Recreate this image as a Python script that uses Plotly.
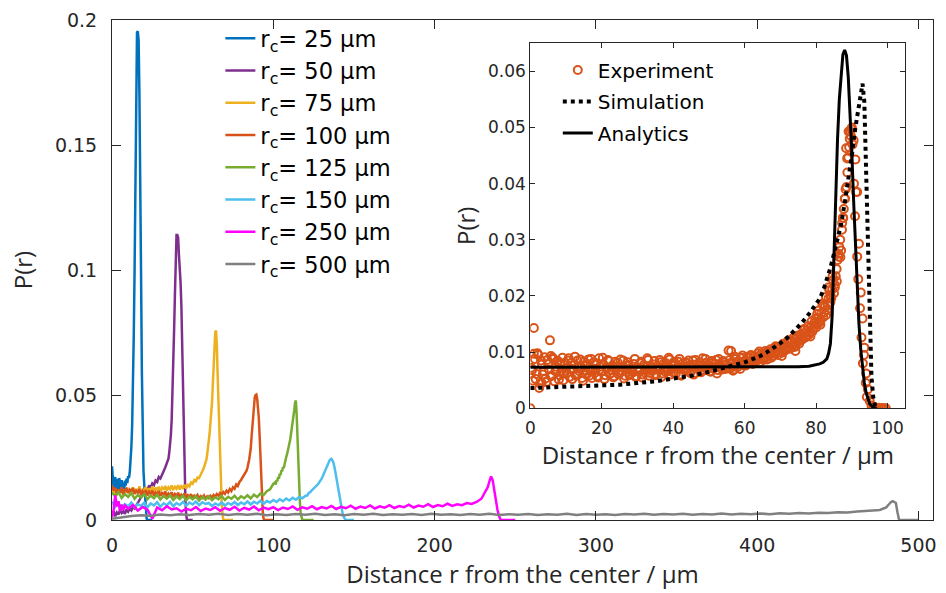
import plotly.graph_objects as go

# ---------------- main chart data ----------------
labels = ["r<sub>c</sub>= 25 μm", "r<sub>c</sub>= 50 μm", "r<sub>c</sub>= 75 μm", "r<sub>c</sub>= 100 μm",
          "r<sub>c</sub>= 125 μm", "r<sub>c</sub>= 150 μm", "r<sub>c</sub>= 250 μm", "r<sub>c</sub>= 500 μm"]
colors = ["#0072BD", "#7E2F8E", "#EDB120", "#D95319", "#77AC30", "#4DBEEE", "#FF00FF", "#808080"]

r25 = [0.5 * i for i in range(45)] + [23, 24, 25]
p25 = [0.0215, 0.0180, 0.0125, 0.0158, 0.0172, 0.0118, 0.0165, 0.0130, 0.0112, 0.0168,
       0.0142, 0.0120, 0.0160, 0.0128, 0.0150, 0.0115, 0.0158, 0.0138, 0.0165, 0.0148,
       0.0175, 0.0168, 0.0190, 0.0230, 0.0290, 0.0380, 0.0520, 0.0740, 0.1000, 0.1420,
       0.1850, 0.1950, 0.1955, 0.1920, 0.1700, 0.1420, 0.1000, 0.0600, 0.0330, 0.0200,
       0.0140, 0.0080, 0.0030, 0.0005, 0.0, 0.0, 0.0, 0.0]

r50 = list(range(0, 35)) + [35 + 0.5 * i for i in range(25)] + [48, 49, 50]
p50 = [0.0020, 0.0035, 0.0015, 0.0030, 0.0022, 0.0040, 0.0028, 0.0035, 0.0025, 0.0042,
       0.0033, 0.0045, 0.0038, 0.0052, 0.0046, 0.0060, 0.0068, 0.0080, 0.0090, 0.0105,
       0.0112, 0.0125, 0.0118, 0.0138, 0.0130, 0.0146, 0.0140, 0.0158, 0.0152, 0.0172,
       0.0166, 0.0185, 0.0195, 0.0210, 0.0225,
       0.0245, 0.0270, 0.0300, 0.0340, 0.0400, 0.0500, 0.0620, 0.0760, 0.0900, 0.1050,
       0.1140, 0.1140, 0.1130, 0.1060, 0.1010, 0.0950, 0.0860, 0.0700, 0.0500, 0.0300,
       0.0180, 0.0080, 0.0020, 0.0, 0.0,
       0.0, 0.0, 0.0]

r75 = list(range(0, 57)) + [57 + 0.5 * i for i in range(25)] + [70, 71, 72, 73, 74, 75]
p75 = [0.0118, 0.0102, 0.0125, 0.0098, 0.0120, 0.0108, 0.0130, 0.0100, 0.0122, 0.0110,
       0.0128, 0.0103, 0.0118, 0.0131, 0.0105, 0.0124, 0.0112, 0.0135, 0.0108, 0.0121,
       0.0115, 0.0132, 0.0110, 0.0126, 0.0117, 0.0134, 0.0112, 0.0129, 0.0120, 0.0133,
       0.0116, 0.0130, 0.0121, 0.0136, 0.0118, 0.0131, 0.0123, 0.0138, 0.0120, 0.0133,
       0.0125, 0.0139, 0.0122, 0.0135, 0.0128, 0.0141, 0.0126, 0.0143, 0.0135, 0.0150,
       0.0145, 0.0160, 0.0155, 0.0170, 0.0168, 0.0185, 0.0195,
       0.0210, 0.0218, 0.0230, 0.0240, 0.0262, 0.0285, 0.0315, 0.0345, 0.0385, 0.0420,
       0.0470, 0.0540, 0.0610, 0.0690, 0.0750, 0.0758, 0.0700, 0.0580, 0.0460, 0.0340,
       0.0240, 0.0140, 0.0070, 0.0025, 0.0,
       0.0, 0.0, 0.0, 0.0, 0.0, 0.0]

r100 = list(range(0, 84)) + [83.5 + 0.5 * i for i in range(24)] + [96, 97, 98, 99, 100]
p100 = [0.0137, 0.0118, 0.0128, 0.0105, 0.0122, 0.0110, 0.0130, 0.0102, 0.0119, 0.0125,
        0.0108, 0.0121, 0.0112, 0.0128, 0.0104, 0.0117, 0.0109, 0.0124, 0.0100, 0.0115,
        0.0107, 0.0120, 0.0098, 0.0113, 0.0105, 0.0118, 0.0097, 0.0110, 0.0103, 0.0116,
        0.0096, 0.0108, 0.0101, 0.0114, 0.0094, 0.0106, 0.0099, 0.0111, 0.0092, 0.0104,
        0.0097, 0.0109, 0.0090, 0.0101, 0.0095, 0.0106, 0.0088, 0.0099, 0.0093, 0.0103,
        0.0087, 0.0097, 0.0091, 0.0100, 0.0086, 0.0095, 0.0089, 0.0098, 0.0085, 0.0094,
        0.0088, 0.0097, 0.0090, 0.0100, 0.0093, 0.0104, 0.0097, 0.0108, 0.0101, 0.0112,
        0.0105, 0.0117, 0.0110, 0.0124, 0.0116, 0.0131, 0.0125, 0.0142, 0.0136, 0.0152,
        0.0160, 0.0172, 0.0182, 0.0190,
        0.0198, 0.0210, 0.0222, 0.0240, 0.0262, 0.0285, 0.0330, 0.0375, 0.0420, 0.0460,
        0.0490, 0.0500, 0.0502, 0.0485, 0.0450, 0.0410, 0.0340, 0.0250, 0.0170, 0.0090,
        0.0030, 0.0005, 0.0, 0.0,
        0.0, 0.0, 0.0, 0.0, 0.0]

r125 = list(range(0, 101, 2)) + [101 + 0.5 * i for i in range(35)] + [119, 120, 121, 122, 123, 124, 125]
p125 = [0.0110, 0.0095, 0.0112, 0.0088, 0.0104, 0.0092, 0.0108, 0.0085, 0.0100, 0.0090,
        0.0104, 0.0083, 0.0098, 0.0087, 0.0101, 0.0082, 0.0096, 0.0086, 0.0099, 0.0080,
        0.0094, 0.0084, 0.0097, 0.0079, 0.0093, 0.0083, 0.0096, 0.0078, 0.0092, 0.0082,
        0.0095, 0.0079, 0.0091, 0.0083, 0.0096, 0.0080, 0.0093, 0.0085, 0.0097, 0.0082,
        0.0095, 0.0087, 0.0099, 0.0086, 0.0101, 0.0092, 0.0106, 0.0100, 0.0115, 0.0123,
        0.0145,
        0.0150, 0.0142, 0.0160, 0.0155, 0.0172, 0.0165, 0.0185, 0.0180, 0.0198, 0.0195,
        0.0212, 0.0208, 0.0228, 0.0235, 0.0252, 0.0262, 0.0275, 0.0290, 0.0305, 0.0322,
        0.0345, 0.0365, 0.0385, 0.0410, 0.0440, 0.0470, 0.0478, 0.0420, 0.0320, 0.0220,
        0.0140, 0.0070, 0.0025, 0.0005, 0.0,
        0.0, 0.0, 0.0, 0.0, 0.0, 0.0, 0.0]

r150 = list(range(0, 121, 2)) + list(range(121, 146)) + [146, 147, 148, 149, 150]
p150 = [0.0074, 0.0052, 0.0068, 0.0048, 0.0063, 0.0055, 0.0070, 0.0050, 0.0064, 0.0056,
        0.0069, 0.0051, 0.0066, 0.0058, 0.0071, 0.0053, 0.0067, 0.0059, 0.0072, 0.0055,
        0.0068, 0.0060, 0.0073, 0.0057, 0.0070, 0.0062, 0.0074, 0.0059, 0.0071, 0.0064,
        0.0068, 0.0056, 0.0066, 0.0059, 0.0070, 0.0058, 0.0068, 0.0061, 0.0072, 0.0060,
        0.0070, 0.0063, 0.0074, 0.0062, 0.0073, 0.0066, 0.0077, 0.0065, 0.0076, 0.0070,
        0.0080, 0.0072, 0.0083, 0.0075, 0.0086, 0.0078, 0.0089, 0.0081, 0.0092, 0.0087,
        0.0097,
        0.0098, 0.0108, 0.0112, 0.0120, 0.0125, 0.0132, 0.0138, 0.0146, 0.0155, 0.0165,
        0.0180, 0.0195, 0.0210, 0.0228, 0.0240, 0.0245, 0.0235, 0.0210, 0.0175, 0.0130,
        0.0090, 0.0055, 0.0025, 0.0008, 0.0,
        0.0, 0.0, 0.0, 0.0, 0.0]

r250 = list(range(0, 9)) + list(range(10, 229, 3)) + list(range(229, 242)) + [242, 244, 246, 248, 250]
p250 = [0.0010, 0.0040, 0.0098, 0.0055, 0.0075, 0.0035, 0.0062, 0.0040, 0.0058,
        0.0045, 0.0060, 0.0038, 0.0052, 0.0041, 0.0005, 0.0050, 0.0039, 0.0055, 0.0042,
        0.0047, 0.0034, 0.0045, 0.0039, 0.0052, 0.0036, 0.0046, 0.0040, 0.0051, 0.0037,
        0.0048, 0.0041, 0.0053, 0.0038, 0.0049, 0.0042, 0.0054, 0.0039, 0.0050, 0.0043,
        0.0051, 0.0040, 0.0050, 0.0044, 0.0054, 0.0041, 0.0051, 0.0045, 0.0055, 0.0043,
        0.0052, 0.0046, 0.0056, 0.0044, 0.0053, 0.0047, 0.0057, 0.0045, 0.0054, 0.0048,
        0.0058, 0.0046, 0.0055, 0.0049, 0.0059, 0.0048, 0.0056, 0.0051, 0.0061, 0.0050,
        0.0058, 0.0053, 0.0063, 0.0052, 0.0060, 0.0055, 0.0065, 0.0056, 0.0063, 0.0059,
        0.0068, 0.0064, 0.0072,
        0.0085, 0.0098, 0.0108, 0.0118, 0.0132, 0.0155, 0.0174, 0.0160, 0.0115, 0.0075,
        0.0040, 0.0015, 0.0,
        0.0, 0.0, 0.0, 0.0, 0.0]

r500 = list(range(0, 475, 6)) + list(range(476, 489)) + [490, 495, 500]
p500 = [0.0005, 0.0012, 0.0016, 0.0019, 0.0017, 0.0022, 0.0019, 0.0023, 0.0020, 0.0024,
        0.0021, 0.0025, 0.0020, 0.0024, 0.0021, 0.0025, 0.0019, 0.0023, 0.0020, 0.0024,
        0.0021, 0.0025, 0.0020, 0.0023, 0.0019, 0.0024, 0.0021, 0.0025, 0.0020, 0.0023,
        0.0021, 0.0024, 0.0020, 0.0025, 0.0021, 0.0023, 0.0020, 0.0024, 0.0021, 0.0025,
        0.0020, 0.0023, 0.0021, 0.0024, 0.0020, 0.0023, 0.0021, 0.0025, 0.0020, 0.0024,
        0.0021, 0.0023, 0.0020, 0.0024, 0.0022, 0.0025, 0.0021, 0.0024, 0.0022, 0.0025,
        0.0021, 0.0024, 0.0022, 0.0026, 0.0022, 0.0025, 0.0023, 0.0026, 0.0023, 0.0027,
        0.0025, 0.0028, 0.0026, 0.0029, 0.0028, 0.0031, 0.0030, 0.0034, 0.0035, 0.0039,
        0.0040, 0.0042, 0.0043, 0.0046, 0.0050, 0.0058, 0.0066, 0.0072, 0.0075, 0.0073,
        0.0068, 0.0030, 0.0,
        0.0, 0.0, 0.0]

main_r = [r25, r50, r75, r100, r125, r150, r250, r500]
main_p = [p25, p50, p75, p100, p125, p150, p250, p500]

# ---------------- inset data ----------------
exp_r = [0.5 * i for i in range(200)]
exp_p = [0.0000, 0.0068, 0.0143, 0.0052, 0.0098, 0.0036, 0.0085, 0.0060, 0.0091, 0.0047,
         0.0079, 0.0121, 0.0058, 0.0088, 0.0066, 0.0083, 0.0051, 0.0077, 0.0090, 0.0062,
         0.0072, 0.0085, 0.0056, 0.0081, 0.0069, 0.0092, 0.0060, 0.0075, 0.0087, 0.0054,
         0.0083, 0.0067, 0.0079, 0.0058, 0.0088, 0.0071, 0.0063, 0.0080, 0.0055, 0.0074,
         0.0066, 0.0078, 0.0059, 0.0071, 0.0084, 0.0062, 0.0076, 0.0057, 0.0069, 0.0081,
         0.0064, 0.0073, 0.0085, 0.0058, 0.0070, 0.0077, 0.0061, 0.0068, 0.0079, 0.0056,
         0.0072, 0.0065, 0.0083, 0.0060, 0.0074, 0.0069, 0.0086, 0.0063, 0.0071, 0.0078,
         0.0059, 0.0075, 0.0068, 0.0082, 0.0062, 0.0073, 0.0080, 0.0066, 0.0087, 0.0070,
         0.0064, 0.0077, 0.0071, 0.0083, 0.0060, 0.0074, 0.0069, 0.0081, 0.0066, 0.0076,
         0.0072, 0.0085, 0.0063, 0.0078, 0.0070, 0.0082, 0.0067, 0.0074, 0.0088, 0.0069,
         0.0076, 0.0065, 0.0081, 0.0072, 0.0086, 0.0068, 0.0079, 0.0073, 0.0084, 0.0070,
         0.0078, 0.0103, 0.0071, 0.0083, 0.0075, 0.0088, 0.0073, 0.0081, 0.0090, 0.0077,
         0.0084, 0.0078, 0.0089, 0.0081, 0.0086, 0.0093, 0.0083, 0.0090, 0.0087, 0.0096,
         0.0089, 0.0098, 0.0092, 0.0101, 0.0095, 0.0090, 0.0104, 0.0097, 0.0108, 0.0100,
         0.0106, 0.0099, 0.0112, 0.0104, 0.0117, 0.0108, 0.0121, 0.0113, 0.0109, 0.0124,
         0.0118, 0.0128, 0.0122, 0.0133, 0.0126, 0.0139, 0.0131, 0.0145, 0.0137, 0.0152,
         0.0144, 0.0160, 0.0153, 0.0170, 0.0162, 0.0181, 0.0175, 0.0196, 0.0189, 0.0212,
         0.0205, 0.0235, 0.0264, 0.0287, 0.0281, 0.0339, 0.0373, 0.0394, 0.0447, 0.0493,
         0.0500, 0.0477, 0.0443, 0.0385, 0.0293, 0.0206, 0.0160, 0.0108, 0.0062, 0.0034,
         0.0013, 0.0005, 0.0002, 0.0001, 0.0000, 0.0001, 0.0000, 0.0000, 0.0000, 0.0000]
exp_r2 = [0.25 + 0.5 * i for i in range(180)]
exp_p2 = [0.0072, 0.0049, 0.0088, 0.0061, 0.0095, 0.0044, 0.0078, 0.0066, 0.0053, 0.0086,
          0.0069, 0.0057, 0.0090, 0.0048, 0.0074, 0.0084, 0.0059, 0.0067, 0.0050, 0.0081,
          0.0063, 0.0089, 0.0071, 0.0052, 0.0077, 0.0058, 0.0085, 0.0066, 0.0073, 0.0049,
          0.0076, 0.0060, 0.0087, 0.0068, 0.0054, 0.0082, 0.0070, 0.0057, 0.0089, 0.0065,
          0.0079, 0.0052, 0.0073, 0.0086, 0.0061, 0.0068, 0.0055, 0.0083, 0.0074, 0.0060,
          0.0087, 0.0066, 0.0053, 0.0076, 0.0082, 0.0059, 0.0071, 0.0064, 0.0088, 0.0057,
          0.0069, 0.0080, 0.0055, 0.0077, 0.0063, 0.0089, 0.0058, 0.0075, 0.0067, 0.0084,
          0.0061, 0.0072, 0.0086, 0.0056, 0.0079, 0.0065, 0.0070, 0.0090, 0.0060, 0.0076,
          0.0083, 0.0062, 0.0074, 0.0088, 0.0058, 0.0080, 0.0067, 0.0072, 0.0085, 0.0063,
          0.0078, 0.0060, 0.0086, 0.0070, 0.0075, 0.0064, 0.0089, 0.0068, 0.0081, 0.0073,
          0.0066, 0.0084, 0.0071, 0.0079, 0.0062, 0.0088, 0.0075, 0.0069, 0.0082, 0.0077,
          0.0071, 0.0086, 0.0079, 0.0067, 0.0092, 0.0076, 0.0084, 0.0070, 0.0089, 0.0081,
          0.0076, 0.0092, 0.0082, 0.0095, 0.0079, 0.0091, 0.0085, 0.0098, 0.0082, 0.0093,
          0.0086, 0.0102, 0.0088, 0.0096, 0.0105, 0.0093, 0.0099, 0.0110, 0.0095, 0.0106,
          0.0101, 0.0115, 0.0103, 0.0110, 0.0121, 0.0106, 0.0118, 0.0126, 0.0112, 0.0129,
          0.0115, 0.0132, 0.0124, 0.0140, 0.0128, 0.0146, 0.0135, 0.0155, 0.0142, 0.0160,
          0.0150, 0.0174, 0.0158, 0.0186, 0.0170, 0.0198, 0.0183, 0.0210, 0.0196, 0.0228,
          0.0215, 0.0248, 0.0275, 0.0300, 0.0318, 0.0355, 0.0390, 0.0420, 0.0465, 0.0485]
exp_r_extra = [85.2, 85.8, 86.3, 86.8, 87.3, 87.6, 88.1, 88.4, 88.7, 89.1, 89.4, 89.9,
               90.2, 90.6, 90.9, 91.2, 91.5, 91.8, 92.3, 92.7, 93.1, 93.4, 93.9, 94.2,
               80.3, 81.2, 82.1, 82.8, 83.4, 84.1, 84.6, 78.4, 76.6, 74.2, 72.3, 70.4,
               68.6, 66.3, 64.1, 62.2, 59.4, 57.0, 56.2, 20.3, 5.8, 1.0, 3.2]
exp_p_extra = [0.0220, 0.0226, 0.0270, 0.0269, 0.0330, 0.0339, 0.0373, 0.0463, 0.0445, 0.0493,
               0.0480, 0.0497, 0.0470, 0.0400, 0.0342, 0.0385, 0.0270, 0.0230, 0.0178, 0.0126,
               0.0080, 0.0095, 0.0045, 0.0020,
               0.0168, 0.0149, 0.0183, 0.0166, 0.0215, 0.0200, 0.0235, 0.0128, 0.0141, 0.0102,
               0.0118, 0.0093, 0.0110, 0.0087, 0.0101, 0.0080, 0.0094, 0.0069, 0.0102, 0.0090,
               0.0093, 0.0097, 0.0045]

sim_r = [0, 5, 10, 15, 20, 25, 30, 35, 40, 45, 50, 55, 60,
         62, 64, 66, 68, 70, 72, 74, 76, 78, 80,
         81, 82, 83, 84, 85, 86, 87, 88, 89, 90, 91, 92,
         92.5, 93, 93.5, 94, 94.5, 95, 95.5, 96, 96.5, 97]
sim_p = [0.0036, 0.0037, 0.0038, 0.0039, 0.0040, 0.0042, 0.0045, 0.0048, 0.0053, 0.0058,
         0.0065, 0.0073, 0.0082,
         0.0087, 0.0092, 0.0099, 0.0107, 0.0116, 0.0126, 0.0138, 0.0152, 0.0168, 0.0185,
         0.0195, 0.0210, 0.0228, 0.0250, 0.0275, 0.0300, 0.0328, 0.0365, 0.0405, 0.0450,
         0.0500, 0.0545,
         0.0565, 0.0578, 0.0545, 0.0420, 0.0240, 0.0120, 0.0055, 0.0020, 0.0005, 0.0]

ana_r = [0, 10, 20, 30, 40, 50, 60, 70, 75, 78, 80, 81, 82, 83, 83.5, 84, 84.5, 85, 85.5,
         86, 86.5, 87, 87.5, 88, 88.5, 89, 89.5, 90, 90.5, 91, 91.5, 92, 92.5, 93, 93.5,
         94, 95, 96, 97]
ana_p = [0.0073, 0.0073, 0.0073, 0.0073, 0.0073, 0.0073, 0.0073, 0.0073, 0.0074, 0.0075,
         0.0077, 0.0079, 0.0082, 0.0088, 0.0098, 0.0115, 0.0165, 0.0280, 0.0390,
         0.0480, 0.0550, 0.0600, 0.0630, 0.0638, 0.0628, 0.0590, 0.0530, 0.0455, 0.0370,
         0.0285, 0.0210, 0.0150, 0.0105, 0.0070, 0.0045, 0.0028, 0.0008, 0.0001, 0.0]

# ---------------- figure ----------------
AX = "#262626"
TICKFONT = "DejaVu Sans"
TITLEFONT = "Open Sans"

fig = go.Figure()
for i, (r, p) in enumerate(zip(main_r, main_p)):
    fig.add_trace(go.Scatter(x=r, y=p, mode="lines", name=labels[i],
                             line=dict(color=colors[i], width=2.5),
                             legend="legend", legendgroup="g%d" % i,
                             xaxis="x", yaxis="y"))

fig.add_trace(go.Scatter(x=exp_r + exp_r2 + exp_r_extra, y=exp_p + exp_p2 + exp_p_extra,
                         mode="markers", name="Experiment",
                         marker=dict(symbol="circle-open", size=8, color="#D95319",
                                     line=dict(width=2, color="#D95319")),
                         legend="legend2", legendgroup="e", xaxis="x2", yaxis="y2"))
fig.add_trace(go.Scatter(x=sim_r, y=sim_p, mode="lines", name="Simulation",
                         line=dict(color="black", width=4, dash="dot"),
                         legend="legend2", legendgroup="s", xaxis="x2", yaxis="y2"))
fig.add_trace(go.Scatter(x=ana_r, y=ana_p, mode="lines", name="Analytics",
                         line=dict(color="black", width=3),
                         legend="legend2", legendgroup="a", xaxis="x2", yaxis="y2"))

axis_common = dict(showline=True, linecolor=AX, linewidth=1, mirror="ticks",
                   ticks="inside", tickcolor=AX, showgrid=False, zeroline=False)

fig.update_layout(
    width=946, height=593,
    margin=dict(l=112, r=9, t=12, b=65),
    paper_bgcolor="white", plot_bgcolor="white",
    showlegend=True,
    xaxis=dict(domain=[0, 1], range=[0, 509], tickvals=[0, 100, 200, 300, 400, 500],
               ticklen=9, ticklabelstandoff=8,
               tickfont=dict(family=TICKFONT, size=19, color=AX),
               title=dict(text="Distance r from the center / μm", standoff=11,
                          font=dict(family=TITLEFONT, size=24, color=AX)),
               anchor="y", **axis_common),
    yaxis=dict(domain=[0, 1], range=[0, 0.2], tickvals=[0, 0.05, 0.1, 0.15, 0.2],
               ticklen=9, ticklabelstandoff=10,
               tickfont=dict(family=TICKFONT, size=19, color=AX),
               title=dict(text="P(r)", standoff=15,
                          font=dict(family=TITLEFONT, size=24, color=AX)),
               anchor="x", **axis_common),
    xaxis2=dict(domain=[0.5095, 0.9664], range=[0, 105], tickvals=[0, 20, 40, 60, 80, 100],
                ticklen=5, ticklabelstandoff=4,
                tickfont=dict(family=TICKFONT, size=17, color=AX),
                title=dict(text="Distance r from the center / μm", standoff=1,
                           font=dict(family=TITLEFONT, size=24, color=AX)),
                anchor="y2", **axis_common),
    yaxis2=dict(domain=[0.2234, 0.9535], range=[0, 0.065],
                tickvals=[0, 0.01, 0.02, 0.03, 0.04, 0.05, 0.06],
                ticklen=5, ticklabelstandoff=0,
                tickfont=dict(family=TICKFONT, size=17, color=AX),
                title=dict(text="P(r)", standoff=5,
                           font=dict(family=TITLEFONT, size=24, color=AX)),
                anchor="x2", **axis_common),
    legend=dict(x=0.132, y=1.006, xanchor="left", yanchor="top",
                bgcolor="rgba(0,0,0,0)", borderwidth=0, tracegroupgap=0,
                font=dict(family=TICKFONT, size=22.5, color="black")),
    legend2=dict(x=0.543, y=0.939, xanchor="left", yanchor="top",
                 bgcolor="rgba(0,0,0,0)", borderwidth=0, tracegroupgap=2.5,
                 font=dict(family=TICKFONT, size=20, color="black")),
)

fig.write_html("out.html")
